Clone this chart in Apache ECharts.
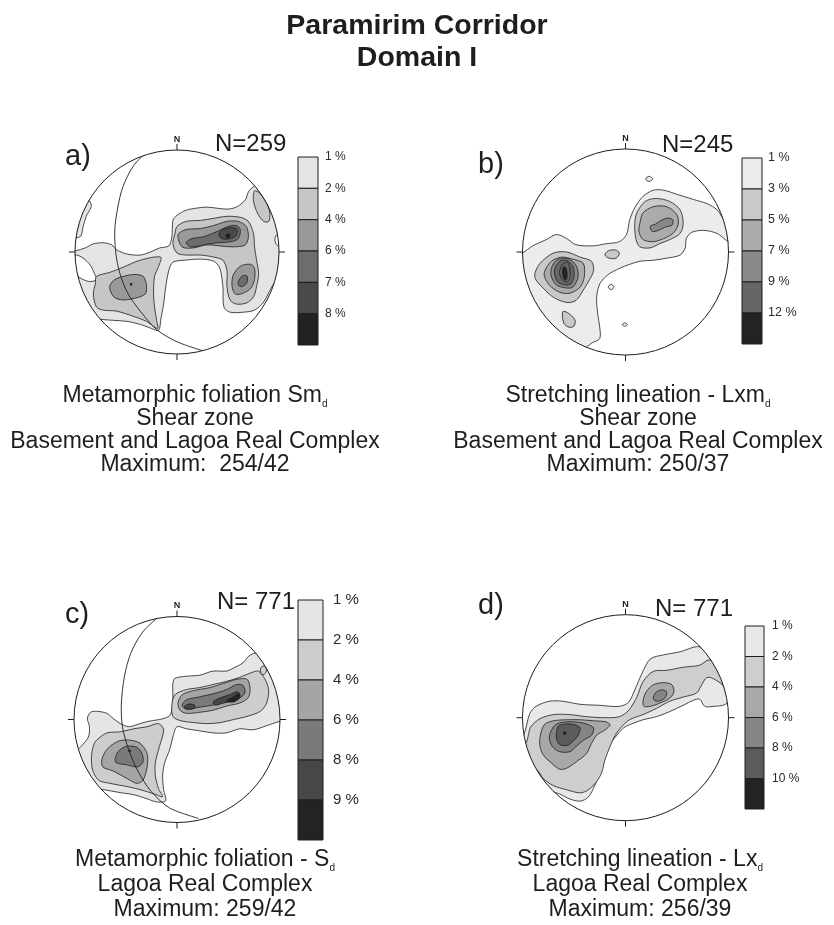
<!DOCTYPE html>
<html><head><meta charset="utf-8">
<script src="https://cdn.jsdelivr.net/npm/echarts/dist/echarts.min.js"></script>
<style>html,body{margin:0;padding:0;background:#fff}#chart{width:834px;height:925px}</style>
</head><body><div id="chart"></div>
<script>
// ---------- DATA (stereonet coordinates: primitive circle radius = 100) ----------
const legendLabelsA = ['1 %','2 %','4 %','6 %','7 %','8 %'];
const legendLabelsB = ['1 %','3 %','5 %','7 %','9 %','12 %'];
const legendLabelsC = ['1 %','2 %','4 %','6 %','8 %','9 %'];
const legendLabelsD = ['1 %','2 %','4 %','6 %','8 %','10 %'];

// [level index (-1 = empty hole), outline points [x, y]]
const contoursA = [
  [0, [[-100,1],[-90,4],[-82,8],[-72,9],[-64,7],[-59,2],[-49,-2],[-36,-3],[-26,0],[-17,4],[-8,6],[-5,15],[-4,31],[0,36],[9,41],[19,43],[29,44],[39,43],[49,42],[58,44],[67,51],[70,59],[75,64],[80,66],[92,55],[108,20],[108,-15],[100,-25],[93,-34],[85,-49],[76,-57],[65,-59],[52,-59],[46,-54],[45,-34],[42,-16],[36,-9],[23,-7],[8,-8],[-4,-10],[-8,-18],[-11,-34],[-13,-50],[-16,-67],[-18,-77],[-25,-75],[-36,-71],[-49,-68],[-62,-67],[-75,-66],[-80,-65],[-92,-58],[-108,-30],[-108,0]]],
  [0, [[-84,46],[-89,35],[-92,25],[-95,15],[-108,16],[-104,42],[-92,56]]],
  [-1, [[-100,-3],[-92,-6],[-85,-13],[-81,-21],[-79,-27],[-85,-29],[-92,-27],[-98,-23],[-106,-12]]],
  [-1, [[100,18],[97,16],[96,12],[97,8],[100,6],[106,12]]],
  [1, [[-79,-24],[-66,-20],[-53,-15],[-36,-8],[-16,-5],[-18,-14],[-22,-24],[-23,-41],[-22,-54],[-20,-67],[-19,-75],[-30,-68],[-43,-63],[-59,-58],[-72,-57],[-79,-54],[-82,-41],[-80,-31]]],
  [1, [[-2,18],[0,25],[9,30],[23,31],[36,33],[49,35],[62,34],[70,30],[75,18],[76,5],[78,-8],[80,-21],[78,-34],[75,-44],[68,-50],[58,-51],[52,-47],[49,-34],[49,-18],[45,-8],[36,-5],[23,-3],[9,-3],[0,-1],[-4,8]]],
  [1, [[76,60],[82,57],[88,48],[91,38],[90,30],[85,30],[79,38],[75,50]]],
  [2, [[1,17],[9,22],[23,23],[36,26],[49,30],[60,30],[68,25],[70,15],[67,7],[55,5],[42,6],[29,7],[16,4],[5,5]]],
  [2, [[62,-14],[72,-12],[76,-16],[76,-27],[72,-36],[63,-41],[57,-41],[54,-34],[55,-23]]],
  [2, [[-66,-34],[-61,-27],[-49,-23],[-40,-22],[-33,-24],[-30,-32],[-31,-41],[-40,-45],[-53,-47],[-62,-44]]],
  [3, [[9,9],[14,13],[26,15],[39,20],[50,25],[58,26],[62,22],[60,13],[52,10],[39,9],[26,7],[14,5]]],
  [3, [[61,-27],[65,-23],[69,-24],[68,-31],[63,-34],[60,-32]]],
  [4, [[41,17],[45,22],[54,24],[59,22],[58,16],[52,13],[44,13]]],
  [5, [[48,16],[50,18],[52,17],[51,14],[49,14]]],
  [5, [[-46,-31],[-44,-31],[-45,-33]]]
];
const greatCircleA = [[-30,98],[-43,84],[-53,64],[-58,44],[-61,22],[-60,-1],[-56,-21],[-48,-41],[-36,-58],[-20,-76],[0,-88],[26,-97]];

const contoursB = [
  [0, [[-100,-1],[-90,6],[-77,12],[-67,17],[-57,13],[-48,7],[-31,6],[-19,8],[-6,10],[1,17],[4,31],[9,43],[17,54],[27,60],[37,60],[50,56],[66,51],[79,47],[89,41],[94,34],[106,25],[104,8],[97,12],[89,18],[76,21],[64,19],[59,13],[58,4],[53,-3],[40,-6],[27,-8],[14,-9],[4,-12],[-6,-16],[-17,-22],[-25,-31],[-28,-44],[-27,-60],[-25,-73],[-25,-84],[-32,-88],[-45,-95],[-80,-75],[-108,-40],[-108,-5]]],
  [0, [[19.5,71],[23,73.5],[26.5,71],[23,68.5]]],
  [0, [[-16.8,-34],[-14,-31.3],[-11.2,-34],[-14,-36.7]]],
  [0, [[-3.2,-70.5],[-0.6,-68.8],[2,-70.5],[-0.6,-72.2]]],
  [1, [[-88,-21],[-83,-11],[-70,-1],[-57,0],[-44,-5],[-33,-9],[-31,-18],[-35,-27],[-41,-37],[-48,-47],[-57,-49],[-70,-44],[-80,-35],[-87,-27]]],
  [1, [[9,28],[11,38],[19,49],[30,52],[43,49],[53,41],[56,28],[53,18],[43,12],[33,8],[24,4],[14,5],[10,13]]],
  [1, [[-20,-3],[-17,1],[-10,2],[-6,-1],[-9,-6],[-16,-6]]],
  [1, [[-61,-58],[-56,-59],[-49,-66],[-50,-72],[-55,-73],[-60,-69]]],
  [2, [[-79,-21],[-72,-9],[-62,-5],[-51,-7],[-41,-11],[-40,-24],[-44,-34],[-54,-40],[-64,-39],[-74,-32]]],
  [2, [[14,28],[17,38],[27,44],[40,44],[50,36],[51,26],[46,18],[37,13],[27,10],[17,12],[13,20]]],
  [3, [[-72,-16],[-67,-8],[-57,-6],[-48,-13],[-46,-24],[-51,-34],[-57,-35],[-67,-32],[-72,-24]]],
  [3, [[24,25],[29,27],[35,31],[42,33],[46,31],[45,26],[38,24],[32,21],[26,20]]],
  [4, [[-69,-18],[-64,-9],[-57,-8],[-51,-14],[-50,-24],[-53,-31],[-58,-32],[-66,-29]]],
  [4, [[-64,-19],[-61,-12],[-56,-10],[-54,-17],[-54,-26],[-57,-29],[-62,-26]]],
  [5, [[-61,-16],[-59,-14],[-57,-18],[-57,-26],[-59,-27],[-61,-22]]]
];
const greatCircleB = [];

const contoursC = [
  [0, [[-87,1],[-84,7],[-78,8],[-68,6],[-62,1],[-55,-4],[-47,-7],[-39,-5],[-29,-2],[-17,0],[-8,3],[-5,9],[-4,22],[-4,35],[-2,40],[9,42],[22,43],[35,47],[48,47],[55,50],[64,55],[69,61],[74,64],[78,64],[92,55],[104,25],[106,0],[99,-2],[87,-6],[74,-10],[61,-9],[48,-13],[35,-13],[22,-11],[9,-9],[0,-7],[-4,-17],[-7,-29],[-12,-42],[-14,-55],[-13,-68],[-11,-79],[-20,-80],[-29,-77],[-42,-73],[-55,-71],[-72,-68],[-78,-67],[-90,-58],[-99,-33],[-93,-26],[-86,-17],[-85,-7]]],
  [1, [[-2,24],[9,29],[22,31],[35,34],[48,37],[61,41],[71,45],[79,47],[85,40],[89,29],[87,16],[81,8],[68,3],[55,0],[42,-3],[29,-4],[16,-3],[3,-1],[-4,3],[-5,14]]],
  [1, [[-78,-20],[-68,-13],[-55,-12],[-42,-9],[-29,-7],[-18,-4],[-13,-10],[-17,-26],[-21,-42],[-21,-55],[-18,-67],[-14,-75],[-23,-72],[-36,-68],[-49,-65],[-65,-62],[-76,-59],[-82,-49],[-83,-36],[-81,-25]]],
  [1, [[81,48],[82,51],[85,52],[87,48],[85,44],[82,44]]],
  [2, [[1,16],[5,24],[16,28],[32,31],[45,35],[58,39],[68,39],[71,30],[69,21],[61,16],[48,13],[35,9],[22,7],[9,6],[3,9]]],
  [2, [[-73,-39],[-68,-29],[-57,-21],[-46,-20],[-36,-23],[-29,-33],[-29,-46],[-33,-59],[-39,-62],[-49,-57],[-62,-50],[-72,-46]]],
  [3, [[5,14],[9,19],[22,22],[35,25],[48,29],[58,34],[64,33],[66,26],[61,21],[48,17],[35,14],[22,12],[9,10]]],
  [3, [[-60,-38],[-57,-31],[-49,-26],[-39,-27],[-34,-33],[-33,-41],[-38,-46],[-49,-44],[-59,-42]]],
  [4, [[7,12],[11,15],[17,14],[17,11],[11,10]]],
  [4, [[35,17],[42,21],[51,24],[59,27],[61,23],[56,19],[45,16],[37,14]]],
  [5, [[48,18],[55,22],[60,25],[61,21],[55,17]]],
  [5, [[-47,-30],[-45,-30],[-46,-32]]]
];
const greatCircleC = [[-20,98],[-34,84],[-45,64],[-51,42],[-54,16],[-53,-7],[-47,-29],[-38,-50],[-25,-70],[-7,-86],[21,-96]];

const contoursD = [
  [0, [[-99,-17],[-93,4],[-87,11],[-74,16],[-61,16],[-44,13],[-25,12],[-6,11],[3,15],[9,27],[16,43],[24,57],[37,61],[53,64],[71,69],[85,62],[106,25],[97,13],[85,11],[77,11],[72,18],[66,17],[56,12],[43,6],[30,1],[17,-2],[6,-6],[-2,-10],[-10,-19],[-17,-28],[-22,-41],[-25,-54],[-30,-66],[-36,-77],[-44,-81],[-54,-79],[-64,-74],[-80,-68],[-108,-25]]],
  [1, [[-97,-25],[-92,-9],[-83,-1],[-70,3],[-54,3],[-38,1],[-19,0],[-6,1],[3,7],[11,20],[17,35],[27,45],[40,46],[56,49],[72,51],[81,56],[95,50],[104,20],[94,32],[85,38],[79,39],[74,32],[69,24],[56,20],[43,16],[30,9],[17,3],[4,-2],[-4,-9],[-10,-17],[-15,-28],[-20,-41],[-23,-53],[-28,-62],[-36,-70],[-44,-73],[-57,-70],[-70,-66],[-80,-59],[-86,-51],[-100,-50],[-105,-25]]],
  [2, [[-83,-19],[-79,-7],[-70,-3],[-57,-2],[-44,-2],[-31,-3],[-19,-4],[-15,-7],[-20,-12],[-28,-17],[-33,-25],[-38,-35],[-48,-43],[-57,-49],[-64,-50],[-72,-44],[-80,-36],[-83,-28]]],
  [2, [[17,16],[20,25],[27,32],[37,34],[45,32],[47,25],[43,19],[33,14],[24,11],[18,11]]],
  [3, [[-74,-19],[-70,-9],[-64,-5],[-51,-4],[-38,-6],[-31,-10],[-33,-17],[-41,-22],[-48,-28],[-54,-33],[-64,-33],[-71,-28]]],
  [3, [[27,20],[30,25],[36,27],[40,25],[38,19],[32,16],[28,17]]],
  [4, [[-67,-14],[-65,-8],[-57,-6],[-49,-7],[-44,-10],[-46,-17],[-51,-23],[-57,-27],[-64,-26],[-67,-20]]],
  [5, [[-60,-14],[-58,-14],[-58,-16],[-60,-16]]]
];
const greatCircleD = [];

// ---------- STYLE / LAYOUT ----------
const FONT = "'Liberation Sans', Arial, Helvetica, sans-serif";
const INK = '#1e1e1e';
const palettes = [
  ['#e4e4e4','#c6c6c6','#999999','#6d6d6d','#4a4a4a','#222222'],
  ['#ececec','#c9c9c9','#ababab','#898989','#666666','#232323'],
  ['#e5e5e5','#cdcdcd','#a5a5a5','#7a7a7a','#474747','#232323'],
  ['#e8e8e8','#cecece','#a8a8a8','#858585','#5b5b5b','#232323']
];
const nets = [
  {cx:177, cy:252, r:102, contours:contoursA, gc:greatCircleA},
  {cx:625.5, cy:252, r:103, contours:contoursB, gc:greatCircleB},
  {cx:177, cy:719.5, r:103, contours:contoursC, gc:greatCircleC},
  {cx:625.5, cy:717.7, r:103, contours:contoursD, gc:greatCircleD}
];
const legends = [
  {left:298, top:157, width:20, height:188, labels:legendLabelsA, fs:12, margin:7},
  {left:742, top:158, width:20, height:186, labels:legendLabelsB, fs:12.5, margin:6},
  {left:298, top:600, width:25, height:240, labels:legendLabelsC, fs:15, margin:10},
  {left:745, top:626, width:19, height:183, labels:legendLabelsD, fs:12, margin:8}
];

const grid = [], xAxis = [], yAxis = [], series = [];
nets.forEach((n, k) => {
  grid.push({left:n.cx-n.r, top:n.cy-n.r, width:2*n.r, height:2*n.r});
  xAxis.push({gridIndex:k, type:'value', min:-100, max:100, show:false});
  yAxis.push({gridIndex:k, type:'value', min:-100, max:100, show:false});
  const pal = palettes[k];
  series.push({
    type:'custom', coordinateSystem:'cartesian2d', xAxisIndex:k, yAxisIndex:k, z:2, silent:true,
    data: n.contours.map((c,i)=>[0,0,i]),
    renderItem: (params, api) => {
      const c = n.contours[params.dataIndex];
      return {type:'polygon', shape:{points:c[1].map(p=>api.coord(p)), smooth:0.3},
        style:{fill: c[0] < 0 ? '#ffffff' : pal[c[0]], stroke:INK, lineWidth:0.8}};
    }
  });
  if (n.gc.length) {
    series.push({
      type:'custom', coordinateSystem:'cartesian2d', xAxisIndex:k, yAxisIndex:k, z:3, silent:true,
      data:[[0,0]],
      renderItem: (params, api) => ({type:'polyline', shape:{points:n.gc.map(p=>api.coord(p)), smooth:0.3},
        style:{fill:'none', stroke:INK, lineWidth:0.9}})
    });
  }
  series.push({
    type:'custom', coordinateSystem:'cartesian2d', xAxisIndex:k, yAxisIndex:k, z:4, silent:true,
    data:[[0,0]],
    renderItem: (params, api) => {
      const c = api.coord([0,0]);
      const R = api.size([100,100])[0];
      const t = 6;
      return {type:'group', children:[
        {type:'ring', shape:{cx:c[0], cy:c[1], r:R+26, r0:R+0.4}, style:{fill:'#ffffff'}},
        {type:'circle', shape:{cx:c[0], cy:c[1], r:R}, style:{fill:'none', stroke:INK, lineWidth:1}},
        {type:'line', shape:{x1:c[0], y1:c[1]-R, x2:c[0], y2:c[1]-R-t}, style:{stroke:INK, lineWidth:1}},
        {type:'line', shape:{x1:c[0], y1:c[1]+R, x2:c[0], y2:c[1]+R+t}, style:{stroke:INK, lineWidth:1}},
        {type:'line', shape:{x1:c[0]-R, y1:c[1], x2:c[0]-R-t, y2:c[1]}, style:{stroke:INK, lineWidth:1}},
        {type:'line', shape:{x1:c[0]+R, y1:c[1], x2:c[0]+R+t, y2:c[1]}, style:{stroke:INK, lineWidth:1}},
        {type:'text', style:{text:'N', x:c[0], y:c[1]-R-6, textAlign:'center', textVerticalAlign:'bottom',
          font:'bold 9px ' + FONT, fill:INK}}
      ]};
    }
  });
});
legends.forEach((L, k) => {
  const gi = 4 + k, pal = palettes[k];
  grid.push({left:L.left, top:L.top, width:L.width, height:L.height});
  xAxis.push({gridIndex:gi, type:'value', min:0, max:1, show:false});
  yAxis.push({gridIndex:gi, type:'value', min:0, max:6, interval:1, inverse:true, position:'right',
    axisLine:{show:false}, axisTick:{show:false}, splitLine:{show:false},
    axisLabel:{show:true, showMinLabel:true, showMaxLabel:true, margin:L.margin, fontSize:L.fs, fontFamily:FONT, color:'#2a2a2a',
      formatter: v => (L.labels[v] !== undefined ? L.labels[v] : '')}});
  series.push({
    type:'custom', coordinateSystem:'cartesian2d', xAxisIndex:gi, yAxisIndex:gi, z:5, silent:true,
    data: pal.map((c,i)=>[0,i]),
    renderItem: (params, api) => {
      const i = params.dataIndex;
      const p0 = api.coord([0,i]), p1 = api.coord([1,i+1]);
      return {type:'rect', shape:{x:Math.min(p0[0],p1[0]), y:Math.min(p0[1],p1[1]), width:Math.abs(p1[0]-p0[0]), height:Math.abs(p1[1]-p0[1])},
        style:{fill:pal[i], stroke:INK, lineWidth:1}};
    }
  });
});

function txt(text, x, y, size, opts) {
  opts = opts || {};
  return {type:'text', z:10, silent:true, style:{text:text, x:x, y:y, fill:INK,
    font:(opts.bold?'bold ':'') + size + 'px ' + FONT, textAlign:opts.align||'center', textVerticalAlign:'middle'}};
}
function sub(main, s, x, y, size) {
  return {type:'text', z:10, silent:true, style:{text:'{n|' + main + '}{s|' + s + '}', x:x, y:y, fill:INK,
    textAlign:'center', textVerticalAlign:'middle',
    rich:{n:{fontSize:size, fontFamily:FONT, fill:INK, color:INK, lineHeight:26},
          s:{fontSize:10, fontFamily:FONT, fill:INK, color:INK, lineHeight:13, verticalAlign:'bottom'}}}};
}
const CAP = 23;
const graphic = [
  txt('Paramirim Corridor', 417, 26, 28.5, {bold:true}),
  txt('Domain I', 417, 58, 28.5, {bold:true}),
  txt('a)', 65, 157, 29, {align:'left'}),
  txt('b)', 478, 165, 29, {align:'left'}),
  txt('c)', 65, 615, 29, {align:'left'}),
  txt('d)', 478, 606, 29, {align:'left'}),
  txt('N=259', 215, 144, 24, {align:'left'}),
  txt('N=245', 662, 145, 24, {align:'left'}),
  txt('N= 771', 217, 602, 24, {align:'left'}),
  txt('N= 771', 655, 609, 24, {align:'left'}),
  sub('Metamorphic foliation Sm', 'd', 195, 396, CAP),
  txt('Shear zone', 195, 419, CAP),
  txt('Basement and Lagoa Real Complex', 195, 442, CAP),
  txt('Maximum:  254/42', 195, 465, CAP),
  sub('Stretching lineation - Lxm', 'd', 638, 396, CAP),
  txt('Shear zone', 638, 419, CAP),
  txt('Basement and Lagoa Real Complex', 638, 442, CAP),
  txt('Maximum: 250/37', 638, 465, CAP),
  sub('Metamorphic foliation - S', 'd', 205, 860, CAP),
  txt('Lagoa Real Complex', 205, 885, CAP),
  txt('Maximum: 259/42', 205, 910, CAP),
  sub('Stretching lineation - Lx', 'd', 640, 860, CAP),
  txt('Lagoa Real Complex', 640, 885, CAP),
  txt('Maximum: 256/39', 640, 910, CAP)
];

const chart = echarts.init(document.getElementById('chart'), null, {renderer:'canvas'});
chart.setOption({backgroundColor:'#ffffff', animation:false, grid, xAxis, yAxis, series, graphic});
</script></body></html>
